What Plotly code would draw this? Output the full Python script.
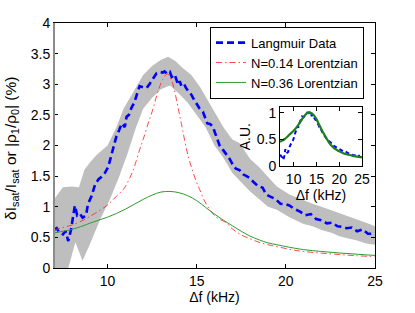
import plotly.graph_objects as go

# ---------------- data ----------------
f_data = [7.0, 7.15, 7.3, 7.5, 7.65, 7.8, 7.95, 8.1, 8.17, 8.3, 8.45, 8.6, 8.8, 8.9, 9.1, 9.3, 9.5,
          9.67, 9.85, 10.04, 10.2, 10.3, 10.5, 10.65, 10.8, 10.97, 11.07, 11.2, 11.35, 11.5, 11.63,
          11.8, 12.0, 12.2, 12.35, 12.47, 12.6, 12.75, 12.95, 13.1, 13.2, 13.35, 13.5, 13.6, 13.77,
          13.9, 13.96, 14.05, 14.15, 14.3, 14.4, 14.55, 14.7, 14.85, 14.98, 15.17, 15.35, 15.5, 15.6,
          15.75, 15.9, 16.1, 16.3, 16.5, 16.7, 16.85, 17.0, 17.2, 17.4, 17.6, 17.8, 17.97, 18.2, 18.4,
          18.7, 18.9, 19.1, 19.4, 19.7, 20.0, 20.2, 20.5, 20.8, 21.1, 21.4, 21.7, 22.0, 22.3, 22.6,
          22.9, 23.2, 23.4, 23.7, 24.0, 24.3, 24.6, 25.0]
langmuir = [0.62, 0.65, 0.58, 0.55, 0.6, 0.44, 0.62, 0.85, 1.02, 0.86, 0.89, 0.82, 0.86, 1.04, 1.17,
            1.36, 1.45, 1.49, 1.55, 1.65, 1.81, 1.94, 2.15, 2.25, 2.36, 2.3, 2.47, 2.5, 2.62, 2.7,
            2.83, 2.97, 2.95, 2.94, 3.0, 3.05, 3.1, 3.18, 3.2, 3.19, 3.21, 3.17, 3.2, 3.12, 3.16,
            3.05, 2.99, 3.05, 2.97, 3.0, 2.94, 2.88, 2.83, 2.75, 2.68, 2.6, 2.55, 2.45, 2.36, 2.35,
            2.31, 2.15, 1.99, 1.92, 1.85, 1.78, 1.7, 1.62, 1.6, 1.53, 1.5, 1.47, 1.4, 1.35, 1.31,
            1.2, 1.17, 1.13, 1.05, 1.04, 1.02, 0.96, 0.92, 0.86, 0.88, 0.8, 0.78, 0.73, 0.74, 0.68,
            0.67, 0.65, 0.66, 0.6, 0.63, 0.56, 0.56]

f_upper = [7.0, 7.5, 8.0, 8.4, 8.7, 9.0, 9.4, 10.0, 10.5, 10.9, 11.3, 11.6, 12.0, 12.5, 13.0, 13.4,
           13.8, 14.2, 14.7, 15.2, 15.6, 16.0, 16.5, 17.0, 17.4, 18.0, 18.5, 18.9, 19.5, 20.2, 21.0,
           21.5, 22.0, 22.6, 23.0, 23.5, 24.0, 24.5, 25.0]
band_upper = [1.12, 1.32, 1.33, 1.32, 1.6, 1.72, 1.85, 2.0, 2.3, 2.6, 2.8, 2.95, 3.15, 3.3, 3.4,
              3.45, 3.38, 3.27, 3.15, 2.95, 2.75, 2.55, 2.3, 2.1, 2.04, 1.78, 1.65, 1.52, 1.33,
              1.2, 1.1, 1.05, 1.0, 0.94, 0.9, 0.85, 0.8, 0.74, 0.68]
f_lower = [7.0, 7.8, 8.2, 8.6, 9.0, 9.6, 10.1, 10.6, 11.1, 11.6, 12.0, 12.5, 13.0, 13.5, 14.0,
           14.5, 15.0, 15.5, 16.0, 16.5, 17.0, 17.5, 18.0, 18.5, 19.0, 19.5, 20.2, 21.0, 21.5,
           22.0, 22.6, 23.0, 23.5, 24.0, 24.5, 25.0]
band_lower = [0.0, 0.0, 0.42, 0.12, 0.38, 0.8, 1.1, 1.45, 1.85, 2.3, 2.6, 2.78, 2.92, 2.98, 2.85,
              2.7, 2.5, 2.3, 2.0, 1.8, 1.55, 1.4, 1.25, 1.12, 1.0, 0.95, 0.83, 0.72, 0.68, 0.62,
              0.57, 0.52, 0.48, 0.45, 0.4, 0.38]

f_red = [7.0, 7.5, 8.0, 8.64, 9.0, 9.57, 10.0, 10.5, 10.88, 11.25, 11.5, 11.81, 12.0, 12.28, 12.5,
         12.84, 13.1, 13.35, 13.5, 13.68, 13.9, 14.14, 14.52, 14.98, 15.17, 15.54, 16.1, 16.66,
         17.0, 17.5, 17.97, 18.5, 19.0, 19.8, 20.5, 21.0, 21.9, 23.0, 24.0, 25.0]
lorentz_014 = [0.62, 0.66, 0.7, 0.78, 0.84, 0.94, 1.03, 1.17, 1.28, 1.47, 1.65, 1.94, 2.1, 2.36,
               2.55, 2.89, 3.08, 3.17, 3.12, 2.99, 2.7, 2.36, 1.83, 1.41, 1.28, 1.04, 0.83, 0.74,
               0.64, 0.54, 0.48, 0.42, 0.38, 0.33, 0.29, 0.27, 0.245, 0.22, 0.2, 0.185]

f_green = [7.0, 7.5, 8.0, 8.64, 9.0, 9.5, 10.0, 10.5, 11.0, 11.5, 12.0, 12.5, 13.0, 13.5, 14.0,
           14.5, 15.0, 15.5, 16.0, 16.5, 17.0, 17.5, 18.0, 18.5, 19.0, 19.5, 20.0, 21.0, 22.0,
           23.0, 24.0, 25.0]
lorentz_036 = [0.57, 0.6, 0.63, 0.69, 0.73, 0.78, 0.83, 0.89, 0.96, 1.04, 1.12, 1.19, 1.24, 1.25,
               1.23, 1.18, 1.1, 0.99, 0.88, 0.78, 0.69, 0.6, 0.52, 0.46, 0.41, 0.38, 0.35, 0.3,
               0.27, 0.245, 0.225, 0.205]

# normalisation used for the inset (peak values)
langmuir_peak = 3.2
lorentz_036_peak = 1.25
inset_langmuir = [v / langmuir_peak for v in langmuir]
inset_green = [v / lorentz_036_peak for v in lorentz_036]

x_ticks = [10, 15, 20, 25]
y_ticks = [0, 0.5, 1, 1.5, 2, 2.5, 3, 3.5, 4]
y_tick_text = ["0", "0.5", "1", "1.5", "2", "2.5", "3", "3.5", "4"]
inset_y_ticks = [0, 0.5, 1]
inset_y_text = ["0", "0.5", "1"]

FONT = "Liberation Sans, Arial, Helvetica, sans-serif"
BLUE = "#0000FF"
RED = "rgba(255,40,40,0.85)"
GREEN = "#2E9B2E"
BAND = "#BEBEBE"

fig = go.Figure()

# grey uncertainty band
fig.add_trace(go.Scatter(
    x=f_upper + f_lower[::-1], y=band_upper + band_lower[::-1],
    fill="toself", fillcolor=BAND, line=dict(width=0), mode="lines",
    showlegend=False, hoverinfo="skip"))

fig.add_trace(go.Scatter(x=f_data, y=langmuir, mode="lines", name="Langmuir Data",
                         line=dict(color=BLUE, width=2.6, dash="7px,4px")))
fig.add_trace(go.Scatter(x=f_red, y=lorentz_014, mode="lines", name="N=0.14 Lorentzian",
                         line=dict(color=RED, width=1, dash="6px,3px,1.5px,3px", shape="spline")))
fig.add_trace(go.Scatter(x=f_green, y=lorentz_036, mode="lines", name="N=0.36 Lorentzian",
                         line=dict(color=GREEN, width=1, shape="spline")))

# inset
fig.add_trace(go.Scatter(x=f_data, y=inset_langmuir, mode="lines", showlegend=False,
                         line=dict(color=BLUE, width=2, dash="4px,3px"),
                         xaxis="x2", yaxis="y2"))
fig.add_trace(go.Scatter(x=f_green, y=inset_green, mode="lines", showlegend=False,
                         line=dict(color="#1E7F1E", width=2.2, shape="spline"),
                         xaxis="x2", yaxis="y2"))

axis_common = dict(showline=True, linecolor="black", linewidth=1, mirror="ticks",
                   ticks="inside", ticklen=4, tickcolor="black", showgrid=False,
                   zeroline=False, tickfont=dict(family=FONT, size=14, color="black"))

fig.update_layout(
    width=415, height=313,
    margin=dict(l=54, r=40, t=23, b=37),
    paper_bgcolor="white", plot_bgcolor="white",
    font=dict(family=FONT, size=14, color="black"),
    xaxis=dict(range=[7, 25], tickvals=x_ticks, domain=[0, 1],
               title=dict(text="Δf (kHz)", standoff=2, font=dict(size=14)),
               **axis_common),
    yaxis=dict(range=[0, 4], tickvals=y_ticks, ticktext=y_tick_text, domain=[0, 1],
               **axis_common),
    xaxis2=dict(range=[7, 25], tickvals=x_ticks, domain=[0.704, 0.9595], anchor="y2",
                title=dict(text="Δf (kHz)", standoff=0, font=dict(size=14)),
                **axis_common),
    yaxis2=dict(range=[0, 1.1], tickvals=inset_y_ticks, ticktext=inset_y_text,
                domain=[0.415, 0.656], anchor="x2", **axis_common),
    legend=dict(x=0.486, y=0.985, xanchor="left", yanchor="top",
                bgcolor="white", bordercolor="black", borderwidth=1,
                font=dict(family=FONT, size=13), itemwidth=30,
                tracegroupgap=0, traceorder="normal"),
    showlegend=True,
    annotations=[
        dict(text="δI<sub>sat</sub>/I<sub>sat</sub> or |ρ<sub>1</sub>/ρ<sub>0</sub>| (%)",
             textangle=-90, xref="paper", yref="paper", x=-0.131, y=0.49,
             xanchor="center", yanchor="middle", showarrow=False,
             font=dict(family=FONT, size=15.5, color="black")),
        dict(text="A.U.", textangle=-90, xref="paper", yref="paper",
             x=0.595, y=0.5375, xanchor="center", yanchor="middle",
             showarrow=False, font=dict(family=FONT, size=14, color="black")),
    ],
    shapes=[dict(type="line", xref="paper", yref="paper", x0=0, x1=0, y0=0, y1=1,
                 line=dict(color="#8C8C8C", width=2))],
)

fig.write_html("out.html", config={"displayModeBar": False},
               post_script="document.body.style.margin='0';")
